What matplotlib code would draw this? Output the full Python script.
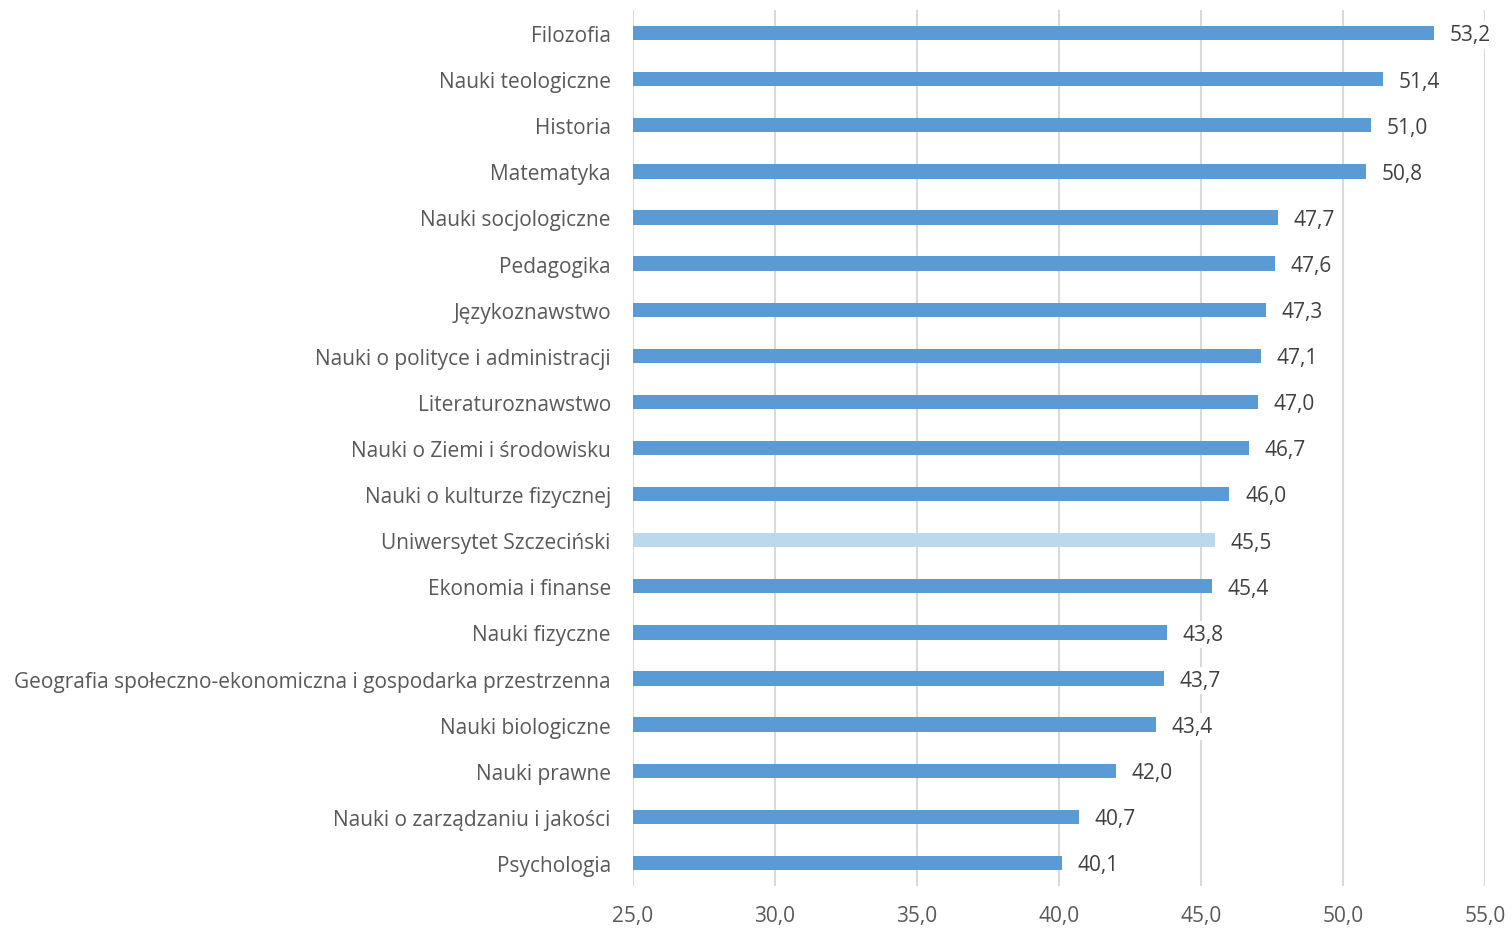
import matplotlib
matplotlib.use("Agg")
import matplotlib.pyplot as plt

plt.rcParams['font.family'] = ['Open Sans', 'DejaVu Sans']

categories = [
    'Filozofia',
    'Nauki teologiczne',
    'Historia',
    'Matematyka',
    'Nauki socjologiczne',
    'Pedagogika',
    'Językoznawstwo',
    'Nauki o polityce i administracji',
    'Literaturoznawstwo',
    'Nauki o Ziemi i środowisku',
    'Nauki o kulturze fizycznej',
    'Uniwersytet Szczeciński',
    'Ekonomia i finanse',
    'Nauki fizyczne',
    'Geografia społeczno-ekonomiczna i gospodarka przestrzenna',
    'Nauki biologiczne',
    'Nauki prawne',
    'Nauki o zarządzaniu i jakości',
    'Psychologia',
]
values = [53.2, 51.4, 51.0, 50.8, 47.7, 47.6, 47.3, 47.1, 47.0, 46.7,
          46.0, 45.5, 45.4, 43.8, 43.7, 43.4, 42.0, 40.7, 40.1]
highlight = 'Uniwersytet Szczeciński'
xticks = [25, 30, 35, 40, 45, 50, 55]

def fmt(v):
    return f'{v:.1f}'.replace('.', ',')

fig = plt.figure(figsize=(15.12, 9.29), dpi=100)
ax = fig.add_axes([633/1512, 42/929, 852/1512, 876/929])

n = len(categories)
ypos = list(range(n - 1, -1, -1))
colors = ['#BDD7EE' if c == highlight else '#5B9BD5' for c in categories]
base = 25
ax.barh(ypos, [v - base for v in values], left=base, height=0.31, color=colors, zorder=2)

fs = 15
for y, v in zip(ypos, values):
    ax.text(v + 0.55, y - 0.04, fmt(v), va='center', ha='left', fontsize=fs, color='#404040',
            bbox=dict(boxstyle='square,pad=0.15', fc='white', ec='none'), zorder=3)

ax.set_xlim(25, 55)
ax.set_ylim(-0.5, n - 0.5)
ax.set_xticks(xticks)
ax.set_xticklabels([fmt(t) for t in xticks], fontsize=fs, color='#595959')
ax.set_yticks(ypos)
ax.set_yticklabels(categories, fontsize=fs, color='#595959')
ax.tick_params(axis='both', length=0)
ax.tick_params(axis='x', pad=14)
ax.tick_params(axis='y', pad=16)
ax.grid(axis='x', color='#D9D9D9', linewidth=1.5, zorder=0)
for s in ax.spines.values():
    s.set_visible(False)

fig.savefig('out.png', dpi=100)
